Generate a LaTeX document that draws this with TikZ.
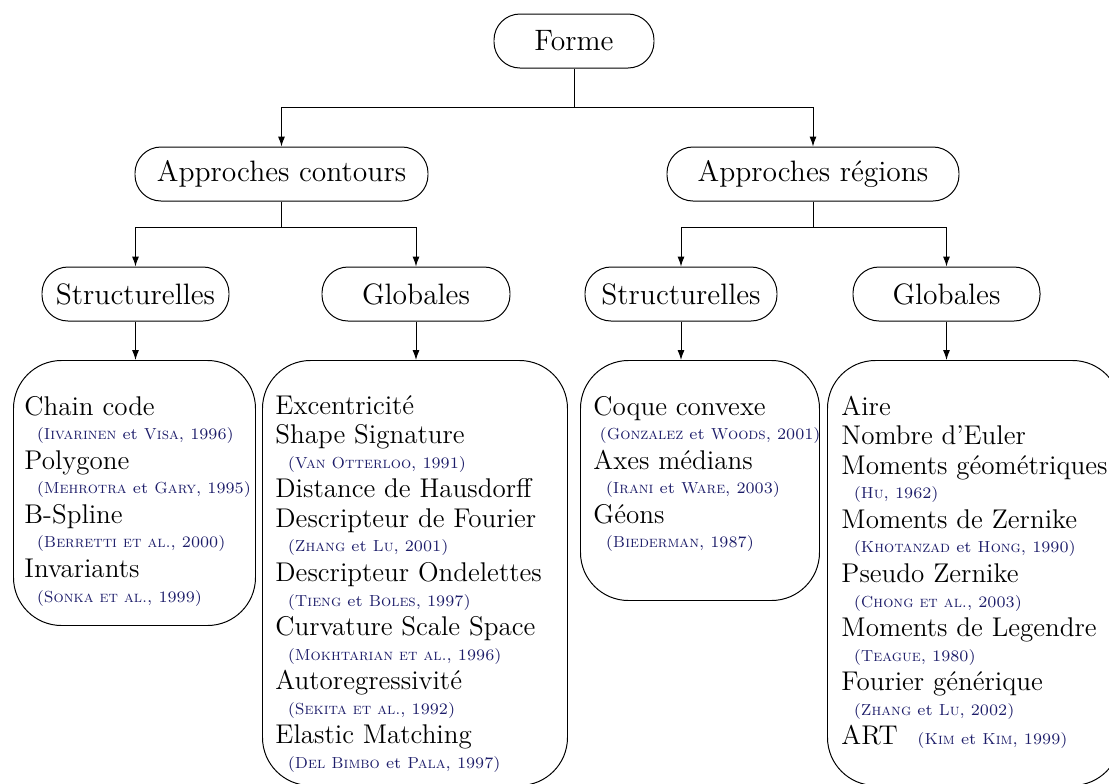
\documentclass[tikz,border=0pt]{standalone}
\usepackage{fontspec}
\usetikzlibrary{arrows.meta}

% one drawing unit
\newcommand\pxu{0.4065pt}
\newcommand\lvlfont{\fontsize{12}{14}\selectfont}
\newcommand\listfont{\fontsize{11}{12}\selectfont}
\definecolor{citeblue}{RGB}{28,28,105}
\newcommand\citefont{\fontsize{6.5}{7.5}\selectfont\color{citeblue}}
% indented reference line
\newcommand\cit[2][5pt]{\hspace*{#1}{\citefont #2}}
% height of the first line of each list
\newcommand\firststrut{\rule{0pt}{9pt}}

\tikzset{
  level/.style={draw, rounded corners=26*\pxu, minimum height=54*\pxu,
                inner sep=0pt, font=\lvlfont},
  bigbox/.style={draw, rounded corners=48*\pxu, inner sep=0pt},
  arr/.style={-{Latex[length=4pt,width=2.8pt]}},
  list/.style={anchor=north west, inner sep=0pt, align=left, font=\listfont},
}

\begin{document}
\begin{tikzpicture}[x=\pxu, y=-\pxu]
\useasboundingbox (0,0) rectangle (1109,783);
\clip (0,0) rectangle (1109,783);

% hierarchy
\node[level, minimum width=160*\pxu] (forme) at (574,41) {Forme};
\node[level, minimum width=293*\pxu] (ac) at (281.5,174) {Approches contours};
\node[level, minimum width=292*\pxu] (ar) at (813,174) {Approches régions};
\node[level, minimum width=187*\pxu] (s1) at (135.5,294) {Structurelles};
\node[level, minimum width=188*\pxu] (g1) at (416,294) {Globales};
\node[level, minimum width=192*\pxu] (s2) at (681,294) {Structurelles};
\node[level, minimum width=187*\pxu] (g2) at (946.5,294) {Globales};

% list boxes
\node[bigbox, anchor=north west, minimum width=242*\pxu, minimum height=265*\pxu] (b1) at (13,360) {};
\node[bigbox, anchor=north west, minimum width=305*\pxu, minimum height=425*\pxu] (b2) at (262,360) {};
\node[bigbox, anchor=north west, minimum width=239*\pxu, minimum height=240*\pxu] (b3) at (580,360) {};
\node[bigbox, anchor=north west, minimum width=293*\pxu, minimum height=425*\pxu] (b4) at (827,360) {};

% connectors
\path (forme.south) ++(0,39) coordinate (j0);
\draw[arr] (forme.south) -- (j0) -| (ac.north);
\draw[arr] (j0) -| (ar.north);
\path (ac.south) ++(0,26) coordinate (j1);
\draw[arr] (ac.south) -- (j1) -| (s1.north);
\draw[arr] (j1) -| (g1.north);
\path (ar.south) ++(0,26) coordinate (j2);
\draw[arr] (ar.south) -- (j2) -| (s2.north);
\draw[arr] (j2) -| (g2.north);
\draw[arr] (s1.south) -- (s1.south |- b1.north);
\draw[arr] (g1.south) -- (g1.south |- b2.north);
\draw[arr] (s2.south) -- (s2.south |- b3.north);
\draw[arr] (g2.south) -- (g2.south |- b4.north);

% contents
\node[list] (t1) at (24,392.5) {\firststrut Chain code\\[-2pt]
  \cit{(\textsc{Iivarinen} et \textsc{Visa}, 1996)}\\
  Polygone\\[-2pt]
  \cit{(\textsc{Mehrotra} et \textsc{Gary}, 1995)}\\
  B-Spline\\[-2pt]
  \cit{(\textsc{Berretti et al.}, 2000)}\\
  Invariants\\[-2pt]
  \cit{(\textsc{Sonka et al.}, 1999)}};

\node[list] (t2) at (275,391.5) {\firststrut Excentricité\\
  Shape Signature\\[-2pt]
  \cit{(\textsc{Van Otterloo}, 1991)}\\
  Distance de Hausdorff\\
  Descripteur de Fourier\\[-2pt]
  \cit{(\textsc{Zhang} et \textsc{Lu}, 2001)}\\
  Descripteur Ondelettes\\[-2pt]
  \cit{(\textsc{Tieng} et \textsc{Boles}, 1997)}\\
  Curvature Scale Space\\[-2pt]
  \cit{(\textsc{Mokhtarian et al.}, 1996)}\\
  Autoregressivité\\[-2pt]
  \cit{(\textsc{Sekita et al.}, 1992)}\\
  Elastic Matching\\[-2pt]
  \cit{(\textsc{Del Bimbo} et \textsc{Pala}, 1997)}};

\node[list] (t3) at (593,392.5) {\firststrut Coque convexe\\[-2pt]
  \cit[2.5pt]{(\textsc{Gonzalez} et \textsc{Woods}, 2001)}\\
  Axes médians\\[-2pt]
  \cit{(\textsc{Irani} et \textsc{Ware}, 2003)}\\
  Géons\\[-2pt]
  \cit{(\textsc{Biederman}, 1987)}};

\node[list] (t4) at (841,392.5) {\firststrut Aire\\
  Nombre d'Euler\\
  Moments géométriques\\[-2pt]
  \cit{(\textsc{Hu}, 1962)}\\
  Moments de Zernike\\[-2pt]
  \cit{(\textsc{Khotanzad} et \textsc{Hong}, 1990)}\\
  Pseudo Zernike\\[-2pt]
  \cit{(\textsc{Chong et al.}, 2003)}\\
  Moments de Legendre\\[-2pt]
  \cit{(\textsc{Teague}, 1980)}\\
  Fourier générique\\[-2pt]
  \cit{(\textsc{Zhang} et \textsc{Lu}, 2002)}\\
  ART\hspace{3pt}\cit{(\textsc{Kim} et \textsc{Kim}, 1999)}};
\end{tikzpicture}
\end{document}
